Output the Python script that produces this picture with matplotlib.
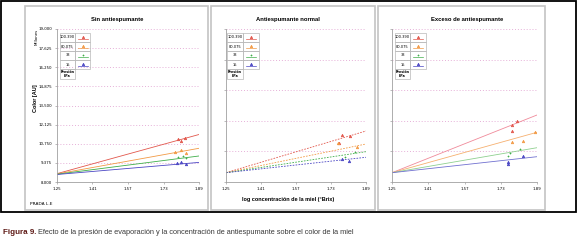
import matplotlib
matplotlib.use("Agg")
import matplotlib.pyplot as plt
from matplotlib.patches import Rectangle
from matplotlib.lines import Line2D

# Chart data
x_ticks = [1.25, 1.41, 1.57, 1.73, 1.89]
x_tick_labels = ["1.25", "1.41", "1.57", "1.73", "1.89"]
y_ticks = [8000, 9375, 10750, 12125, 13500, 14875, 16250, 17625, 19000]
y_tick_labels = ["8,000", "9,375", "10,750", "12,125", "13,500",
                 "14,875", "16,250", "17,625", "19,000"]
grid_23 = [8000, 10200, 12400, 14600, 16800, 19000]

titles = ["Sin antiespumante", "Antiespumante normal", "Exceso de antiespumante"]
pressures = ["100.390", "80.075", "33", "15"]

line_x = [1.25, 1.89]
sin_start = [8600, 8580, 8560, 8540]
sin_end = [11415, 10423, 9870, 9409]
normal_start = [8669, 8669, 8669, 8669]
normal_end = [11667, 10732, 10179, 9776]
exceso_start = [8669, 8669, 8669, 8669]
exceso_end = [12817, 11574, 10466, 9819]

sin_px = [[1.795, 1.81, 1.827], [1.78, 1.81, 1.83], [1.795, 1.82, 1.83], [1.79, 1.81, 1.83]]
sin_py = [[11092, 10950, 11164], [10157, 10300, 10085], [9797, 9869, 9726], [9366, 9438, 9294]]
normal_px = [[1.767, 1.78, 1.817], [1.762, 1.849], [1.794, 1.84], [1.78, 1.812]]
normal_py = [[10826, 11379, 11307], [10826, 10536], [9819, 10179], [9654, 9510]]
exceso_px = [[1.78, 1.80, 1.78], [1.78, 1.828, 1.881], [1.771, 1.815, 1.762], [1.762, 1.828, 1.762]]
exceso_py = [[12098, 12407, 11688], [10897, 10969, 11573], [10063, 10351, 9870], [9460, 9870, 9294]]

colors = ["#e2574c", "#f29a45", "#3fae49", "#4b47c4"]
light_colors = ["#f08a9a", "#f6b070", "#8fd08f", "#7070d0"]
markers = ["^", "^", "+", "^"]

W, H = 578, 244


def X(px):
    return px / W


def Y(py):
    return 1 - py / H


fig = plt.figure(figsize=(W / 100, H / 100), dpi=100)
fig.patch.set_facecolor("white")

# outer frame and panel boxes
fig.add_artist(Rectangle((X(1), Y(212)), 575 / W, 211 / H, fill=False,
                         ec="black", lw=1.3, transform=fig.transFigure))
for l, r in [(25, 208), (211, 375), (378, 545)]:
    fig.add_artist(Rectangle((X(l), Y(210)), (r - l) / W, 204 / H, fill=False,
                             ec="#c4c4c4", lw=1.2, transform=fig.transFigure))

# axes positions in pixels: left, right
ax_pos = [(57, 199), (226, 366), (392, 537)]
starts = [sin_start, normal_start, exceso_start]
ends = [sin_end, normal_end, exceso_end]
pts_x = [sin_px, normal_px, exceso_px]
pts_y = [sin_py, normal_py, exceso_py]
title_x = [117, 288, 467]
tables = [(60, 75, 90), (227, 243, 259), (395, 410, 426)]

for k in range(3):
    l, r = ax_pos[k]
    ax = fig.add_axes([X(l), Y(182), (r - l) / W, 153 / H])
    ax.set_xlim(1.25, 1.89)
    ax.set_ylim(8000, 19000)
    for s in ["top", "right"]:
        ax.spines[s].set_visible(False)
    for s in ["left", "bottom"]:
        ax.spines[s].set_color("#a0a0a0")
        ax.spines[s].set_linewidth(0.6)
    ax.set_xticks(x_ticks)
    ax.set_xticklabels(x_tick_labels)
    ax.tick_params(axis="both", labelsize=2.8, length=1.5, width=0.5,
                   color="#a0a0a0", pad=2)
    if k == 0:
        ax.set_yticks(y_ticks)
        ax.set_yticklabels(y_tick_labels)
        grid_vals = y_ticks[1:]
    else:
        ax.set_yticks(grid_23)
        ax.set_yticklabels([])
        grid_vals = grid_23[1:]
    for g in grid_vals:
        ax.axhline(g, color="#e6b0d8", lw=0.7, ls=(0, (1, 2)), zorder=0)

    for i in range(4):
        if k == 0:
            c, ls = colors[i], "-"
        elif k == 1:
            c, ls = colors[i], (0, (2, 1.5))
        else:
            c, ls = light_colors[i], "-"
        ax.plot(line_x, [starts[k][i], ends[k][i]], color=c, lw=0.6, ls=ls)
        ax.plot(pts_x[k][i], pts_y[k][i], ls="none", marker=markers[i],
                ms=1.8, color=colors[i], mew=0.5)

    fig.text(X(title_x[k]), Y(19), titles[k], ha="center", va="center",
             fontsize=4.2, weight="bold", family="Liberation Sans")

    # little legend table
    tl, tm, tr = tables[k]
    top, rh = 33, 9
    for i in range(4):
        y0 = top + i * rh
        fig.add_artist(Rectangle((X(tl), Y(y0 + rh)), (tm - tl) / W, rh / H,
                                 fill=False, ec="#b8b8b8", lw=0.5,
                                 transform=fig.transFigure))
        fig.add_artist(Rectangle((X(tm), Y(y0 + rh)), (tr - tm) / W, rh / H,
                                 fill=False, ec="#b8b8b8", lw=0.5,
                                 transform=fig.transFigure))
        fig.text(X((tl + tm) / 2), Y(y0 + rh / 2), pressures[i], ha="center",
                 va="center", fontsize=2.6)
        cx = (tm + tr) / 2
        fig.add_artist(Line2D([X(cx)], [Y(y0 + 3.5)], marker=markers[i], ms=1.8,
                              color=colors[i], mew=0.5, transform=fig.transFigure))
        fig.add_artist(Line2D([X(cx - 5), X(cx + 5)], [Y(y0 + 6)] * 2, lw=0.5,
                              color=colors[i], transform=fig.transFigure))
    y0 = top + 4 * rh
    fig.add_artist(Rectangle((X(tl), Y(y0 + rh + 1)), (tm - tl) / W, (rh + 1) / H,
                             fill=False, ec="#b8b8b8", lw=0.5,
                             transform=fig.transFigure))
    fig.text(X((tl + tm) / 2), Y(y0 + 5), "Presión\nkPa", ha="center",
             va="center", fontsize=2.4, weight="bold", linespacing=0.9)

fig.text(X(37), Y(37), "Millones", rotation=90, ha="center", va="center",
         fontsize=2.8)
fig.text(X(36), Y(98), "Color [AU]", rotation=90, ha="center", va="center",
         fontsize=4, weight="bold", family="Liberation Sans")
fig.text(X(288), Y(199), "log concentración de la miel (°Brix)", ha="center",
         va="center", fontsize=4, weight="bold", family="Liberation Sans")
fig.text(X(30), Y(204), "PRADA L.E", ha="left", va="center", fontsize=3.2)

# caption
cap_font = "Liberation Sans"
t1 = fig.text(X(3), Y(233), "Figura 9.", ha="left", va="center", fontsize=5.8,
              weight="bold", color="#5e1a16", family=cap_font)
fig.canvas.draw()
bb = t1.get_window_extent(renderer=fig.canvas.get_renderer())
fig.text(bb.x1 / W + X(2), Y(233),
         "Efecto de la presión de evaporación y la concentración de antiespumante sobre el color de la miel",
         ha="left", va="center", fontsize=5.3, color="#3a3a3a", family=cap_font)

fig.savefig("out.png", dpi=100, facecolor="white")
